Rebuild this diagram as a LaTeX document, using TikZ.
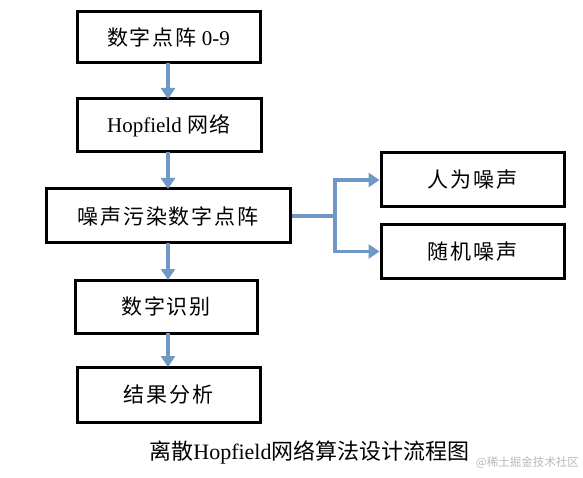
\documentclass[tikz,border=0pt]{standalone}
\usepackage{fontspec}
\setmainfont{Liberation Serif}
\newfontfamily\cjk{Noto Sans CJK SC}[LetterSpace=9]
\newfontfamily\cjkcap{Noto Sans CJK SC}
\usetikzlibrary{arrows.meta}
\definecolor{arrowblue}{RGB}{112,152,196}
\definecolor{wmgray}{RGB}{185,185,185}
\begin{document}
\begin{tikzpicture}[x=1pt,y=-1pt,
  box/.style={draw=black,line width=3pt,fill=white,inner sep=0pt,font=\fontsize{21}{24}\selectfont},
  conn/.style={draw=arrowblue,line width=3.2pt},
  arr/.style={conn,-{Triangle[width=14pt,length=11pt]}}]
\useasboundingbox[fill=white] (0,0) rectangle (583,478);
\node[box,minimum width=183pt,minimum height=51pt] (b1) at (168.5,37.5) {{\cjk 数字点阵} 0-9};
\node[box,minimum width=184pt,minimum height=53pt] (b2) at (169,125.5) {Hopfield {\cjk 网络}};
\node[box,minimum width=244pt,minimum height=54pt] (b3) at (168,216) {\cjk 噪声污染数字点阵};
\node[box,minimum width=182pt,minimum height=53pt] (b4) at (166,306.5) {\cjk 数字识别};
\node[box,minimum width=183pt,minimum height=55pt] (b5) at (168.5,394.5) {\cjk 结果分析};
\node[box,minimum width=183pt,minimum height=54pt] (r1) at (472.5,180) {\cjk 人为噪声};
\node[box,minimum width=183pt,minimum height=53pt] (r2) at (472.5,251.5) {\cjk 随机噪声};
\coordinate (j) at (335,216);
\draw[arr] (168,63) -- (168,99);
\draw[arr] (168,152) -- (168,189);
\draw[arr] (168,243) -- (168,280);
\draw[arr] (168,333) -- (168,367);
\draw[conn] (b3.east) -- (j);
\draw[arr] (j) |- (r1.west);
\draw[arr] (j) |- (r2.west);
\node[inner sep=0pt,font=\fontsize{22}{26}\selectfont] (cap) at (309.5,452) {{\cjkcap 离散}Hopfield{\cjkcap 网络算法设计流程图}};
\node[inner sep=0pt,anchor=east,text=wmgray,font=\cjkcap\fontsize{11.5}{13}\selectfont] (wm) at (579,463) {@稀土掘金技术社区};
\end{tikzpicture}
\end{document}
